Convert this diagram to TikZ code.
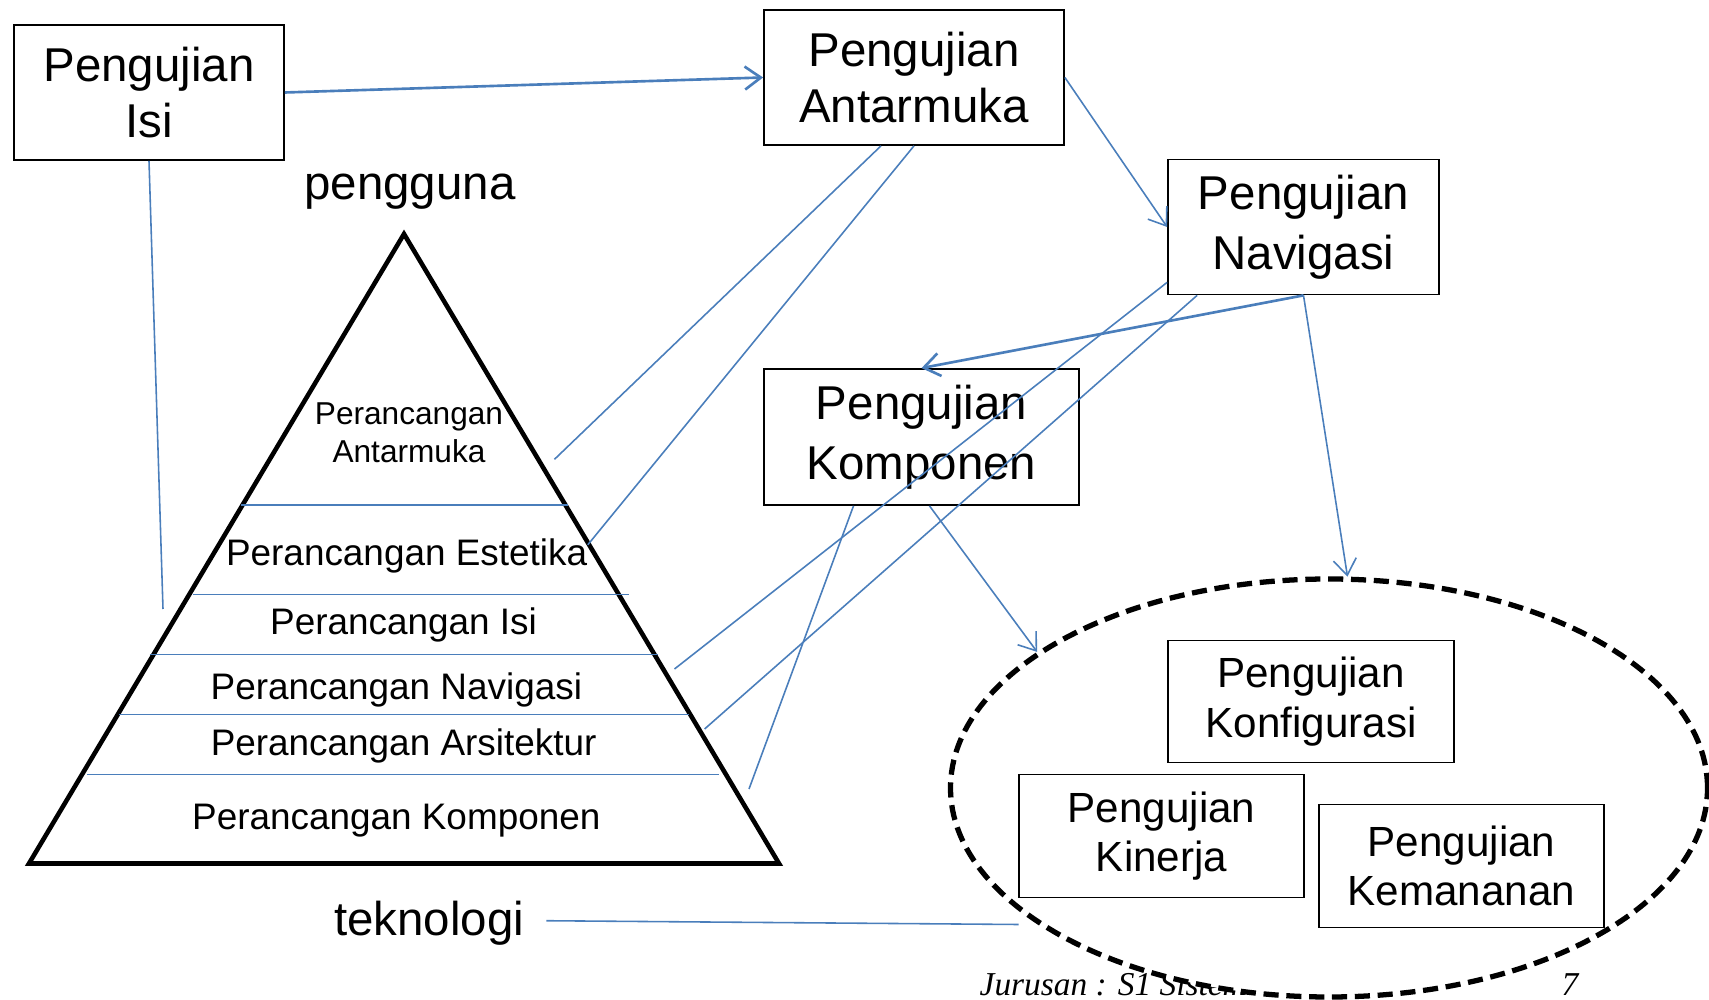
\documentclass[tikz,border=0pt]{standalone}
\usepackage{fontspec}
\setmainfont{Liberation Sans}
\newfontfamily\footfont{Liberation Serif}
\usepackage{xcolor}
\definecolor{linkBlue}{HTML}{4A7EBB}
\usetikzlibrary{arrows.meta, positioning, calc, shapes.geometric}

\begin{document}
\begin{tikzpicture}[
    testbox/.style={draw, line width=0.5pt, align=center, inner sep=0pt,
        font=\fontsize{13.5}{16}\selectfont},
    widebox/.style={testbox, font=\fontsize{13.5}{17}\selectfont},
    innerbox/.style={testbox, font=\fontsize{12}{14}\selectfont},
    link/.style={draw=linkBlue, line width=0.45pt},
    linkarrow/.style={link, -{Straight Barb[length=1.6mm, width=2.3mm]}},
    layer/.style={anchor=base, font=\fontsize{10.5}{12.6}\selectfont},
    bigword/.style={font=\fontsize{13.5}{16}\selectfont},
]
    \useasboundingbox (0,0) rectangle (17.09,-10);

    % --- Footer (partly hidden by the ellipse) ---
    \node[anchor=base west, inner sep=0pt, font=\footfont\itshape\fontsize{9.5}{11}\selectfont]
        (foot) at (9.79,-9.95) {Jurusan : S1 Sistem};
    \node[anchor=base, inner sep=0pt, font=\footfont\itshape\fontsize{9.5}{11}\selectfont]
        (page) at (15.70,-9.95) {7};

    % --- Pyramid ---
    \coordinate (apex) at (4.04,-2.34);
    \coordinate (bl)   at (0.29,-8.635);
    \coordinate (br)   at (7.79,-8.635);
    \draw[line width=1.3pt] (apex) -- (br) -- (bl) -- cycle;
    \foreach \y/\xa/\xb in {5.05/2.41/5.68, 5.945/1.93/6.29, 6.545/1.495/6.58,
                            7.145/1.19/6.89, 7.745/0.87/7.19}
        \draw[link] (\xa,-\y) -- (\xb,-\y);

    \node[align=center, font=\fontsize{9}{10.9}\selectfont]
        (pAnt) at (4.09,-4.33) {Perancangan\\Antarmuka};
    \node[layer] (pEst) at (4.066,-5.656) {Perancangan Estetika};
    \node[layer] (pIsi) at (4.035,-6.35)  {Perancangan Isi};
    \node[layer] (pNav) at (3.964,-7.00)  {Perancangan Navigasi};
    \node[layer] (pArs) at (4.036,-7.555) {Perancangan Arsitektur};
    \node[layer] (pKom) at (3.963,-8.297) {Perancangan Komponen};

    \node[bigword, anchor=base] (user) at (4.10,-2.00) {pengguna};
    \node[bigword, anchor=base] (tek)  at (4.29,-9.35) {teknologi};

    % --- Testing boxes ---
    \node[testbox, minimum width=2.70cm, minimum height=1.35cm] (isi) at (1.49,-0.925)  {Pengujian\\Isi};
    \node[testbox, minimum width=3.00cm, minimum height=1.35cm] (ant) at (9.14,-0.775)  {Pengujian\\Antarmuka};
    \node[widebox, minimum width=2.71cm, minimum height=1.35cm] (nav) at (13.035,-2.27) {Pengujian\\Navigasi};
    \node[widebox, minimum width=3.15cm, minimum height=1.36cm] (kom) at (9.215,-4.37)  {Pengujian\\Komponen};

    % --- Group of system tests ---
    \node[draw, ellipse, line width=1.5pt, dash pattern=on 4.3pt off 2.2pt, fill=white,
          inner sep=0pt, minimum width=7.57cm, minimum height=4.18cm] (grp) at (13.29,-7.88) {};
    \node[innerbox, minimum width=2.86cm, minimum height=1.22cm] (konf) at (13.11,-7.015) {Pengujian\\Konfigurasi};
    \node[innerbox, minimum width=2.85cm, minimum height=1.23cm] (kin)  at (11.615,-8.36) {Pengujian\\Kinerja};
    \node[innerbox, minimum width=2.85cm, minimum height=1.23cm] (kem)  at (14.615,-8.66) {Pengujian\\Kemananan};

    % --- Free ends at the pyramid ---
    \coordinate (isiEnd)  at (1.63,-6.09);
    \coordinate (antEndA) at (5.545,-4.593);
    \coordinate (antEndB) at (5.878,-5.448);
    \coordinate (navEndA) at (6.745,-6.69);
    \coordinate (navEndB) at (7.046,-7.29);
    \coordinate (komEnd)  at (7.49,-7.89);
    \coordinate (tekEnd)  at (10.185,-9.245);

    % --- Connectors ---
    \draw[linkarrow, line width=0.75pt] (isi.east) -- (ant.west);
    \draw[link] (isi.south) -- (isiEnd);
    \draw[link] ($(ant.south)+(-0.33,0)$) -- (antEndA);
    \draw[link] (ant.south) -- (antEndB);
    \draw[linkarrow] (ant.east) -- (nav.west);
    \draw[link] ($(nav.south west)+(0,0.13)$) -- (navEndA);
    \draw[link] ($(nav.south west)+(0.30,0)$) -- (navEndB);
    \draw[linkarrow, line width=0.75pt] (nav.south) -- (kom.north);
    \draw[linkarrow] (nav.south) -- (grp.85);
    \draw[link] ($(kom.south)+(-0.68,0)$) -- (komEnd);
    \draw[linkarrow] ($(kom.south)+(0.08,0)$) -- (grp.155);
    \draw[link] ($(tek.east)+(0.1,0.02)$) -- (tekEnd);
\end{tikzpicture}
\end{document}
